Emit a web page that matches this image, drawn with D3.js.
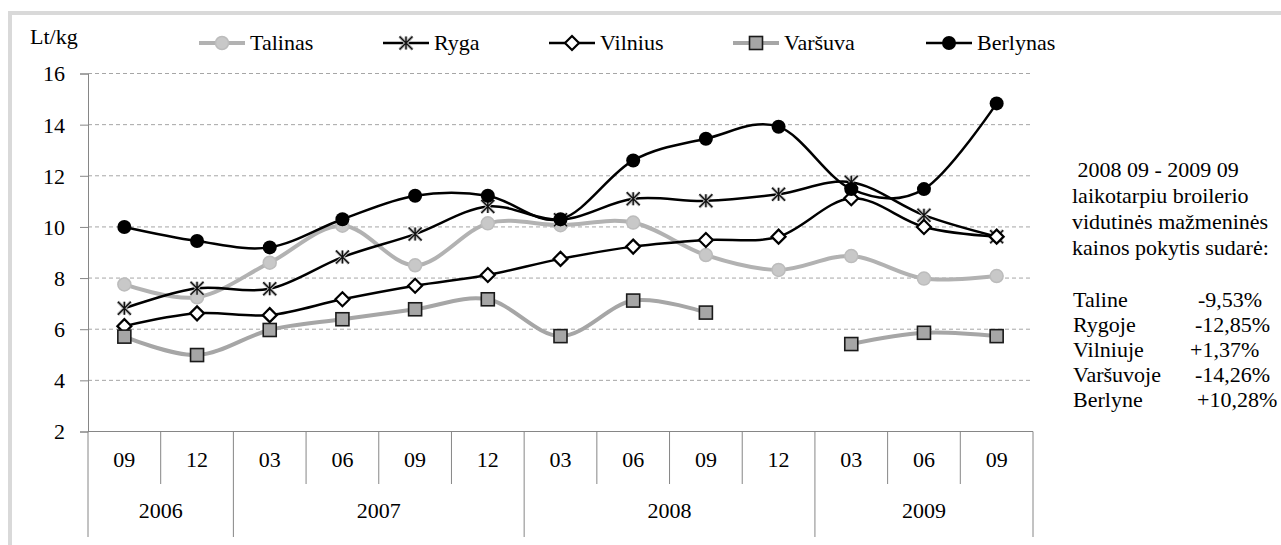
<!DOCTYPE html>
<html><head><meta charset="utf-8">
<script src="https://cdn.jsdelivr.net/npm/d3@7/dist/d3.min.js"></script>
<style>
html,body{margin:0;padding:0;background:#fff;}
svg{display:block;}
</style></head>
<body><svg id="c" width="1281" height="545"></svg>
<script>
// ---- data ----
const months = ["09","12","03","06","09","12","03","06","09","12","03","06","09"];
const years = ["2006","2007","2008","2009"];
const yearCounts = [2,4,4,3];
const yTicks = [2,4,6,8,10,12,14,16];
const seriesNames = ["Talinas","Ryga","Vilnius","Varšuva","Berlynas"];
const talinas  = [7.75,7.25,8.6,10.05,8.5,10.14,10.07,10.17,8.9,8.32,8.86,7.98,8.08];
const ryga     = [6.82,7.6,7.58,8.82,9.72,10.8,10.28,11.1,11.02,11.28,11.75,10.46,9.62];
const vilnius  = [6.12,6.62,6.55,7.17,7.7,8.12,8.75,9.23,9.49,9.62,11.12,10.0,9.62];
const varsuva  = [5.71,4.99,5.97,6.39,6.78,7.17,5.73,7.12,6.65,null,5.42,5.86,5.73];
const berlynas = [10.0,9.45,9.2,10.3,11.22,11.22,10.3,12.6,13.45,13.92,11.48,11.48,14.83];
const noteLines = [" 2008 09 - 2009 09","laikotarpiu broilerio","vidutinės mažmeninės","kainos pokytis sudarė:"];
const noteCities = ["Taline","Rygoje","Vilniuje","Varšuvoje","Berlyne"];
const noteValues = ["-9,53%","-12,85%","+1,37%","-14,26%","+10,28%"];

// ---- layout ----
const FONT = "Liberation Serif";
const L = 88, R = 1033, T = 73.5, B = 431.5;
const svg = d3.select("#c");

// outer frame
svg.append("rect").attr("x",10).attr("y",13).attr("width",1400).attr("height",700)
  .attr("fill","none").attr("stroke","#d9d9d9").attr("stroke-width",4);

const x = d3.scaleBand().domain(d3.range(months.length)).range([L,R]).padding(0);
const y = d3.scaleLinear().domain([2,16]).range([B,T]);
const cx = i => x(i) + x.bandwidth()/2;

// gridlines
svg.append("g").selectAll("line").data(yTicks.filter(t=>t>2)).join("line")
  .attr("x1",L).attr("x2",R).attr("y1",d=>y(d)).attr("y2",d=>y(d))
  .attr("stroke","#a6a6a6").attr("stroke-width",1).attr("stroke-dasharray","4,3");

// y axis
const yAxis = svg.append("g").attr("transform",`translate(${L},0)`)
  .call(d3.axisLeft(y).tickValues(yTicks).tickSize(8).tickPadding(15).tickFormat(d3.format("d")));
yAxis.attr("font-size",22).attr("font-family",FONT);
yAxis.select(".domain").attr("stroke","#868686");
yAxis.selectAll(".tick line").attr("stroke","#868686");
yAxis.selectAll(".tick text").attr("fill","#000").attr("dy","0.34em");

// x axis line
svg.append("line").attr("x1",L).attr("x2",R).attr("y1",B).attr("y2",B).attr("stroke","#868686");
// month / year separators
const yearBounds = [0];
yearCounts.forEach((c,i)=>yearBounds.push(yearBounds[i]+c));
const bx = d => d<months.length ? x(d) : R;
svg.append("g").selectAll("line").data(d3.range(months.length+1)).join("line")
  .attr("x1",bx).attr("x2",bx)
  .attr("y1",B).attr("y2",d=> yearBounds.includes(d) ? 537 : 484)
  .attr("stroke","#868686");
// month labels
svg.append("g").selectAll("text").data(months).join("text")
  .attr("x",(d,i)=>cx(i)).attr("y",467).attr("text-anchor","middle")
  .attr("font-family",FONT).attr("font-size",22).text(d=>d);
// year labels
svg.append("g").selectAll("text").data(years).join("text")
  .attr("x",(d,i)=>(bx(yearBounds[i])+bx(yearBounds[i+1]))/2)
  .attr("y",518).attr("text-anchor","middle").attr("font-family",FONT).attr("font-size",22).text(d=>d);

// unit label
svg.append("text").attr("x",30).attr("y",44).attr("font-family",FONT).attr("font-size",22).text("Lt/kg");

// series styles
const styles = [
  {data:talinas, stroke:"#b2b2b2", w:4, marker:"circleL"},
  {data:ryga, stroke:"#000", w:2.5, marker:"star"},
  {data:vilnius, stroke:"#000", w:2.5, marker:"diamond"},
  {data:varsuva, stroke:"#a6a6a6", w:4, marker:"square"},
  {data:berlynas, stroke:"#000", w:2.5, marker:"circleB"}
];

function drawMarker(g, type, px, py){
  if(type==="circleL"){
    g.append("circle").attr("cx",px).attr("cy",py).attr("r",6.5).attr("fill","#c8c8c8").attr("stroke","#bcbcbc").attr("stroke-width",1.5);
  } else if(type==="circleB"){
    g.append("circle").attr("cx",px).attr("cy",py).attr("r",7).attr("fill","#000");
  } else if(type==="diamond"){
    const s=7;
    g.append("path").attr("d",`M${px},${py-s}L${px+s},${py}L${px},${py+s}L${px-s},${py}Z`)
      .attr("fill","#fff").attr("stroke","#000").attr("stroke-width",2.2);
  } else if(type==="square"){
    const s=6.5;
    g.append("rect").attr("x",px-s).attr("y",py-s).attr("width",2*s).attr("height",2*s)
      .attr("fill","#a6a6a6").attr("stroke","#1a1a1a").attr("stroke-width",1.6);
  } else if(type==="star"){
    const s=6.5;
    const d = `M${px},${py-s}L${px},${py+s}M${px-s},${py-s}L${px+s},${py+s}M${px-s},${py+s}L${px+s},${py-s}`;
    g.append("path").attr("d",d).attr("stroke","#bbb").attr("stroke-width",3.2).attr("fill","none");
    g.append("path").attr("d",d).attr("stroke","#111").attr("stroke-width",1.4).attr("fill","none");
  }
}

const line = d3.line().defined(d=>d!=null).x((d,i)=>cx(i)).y(d=>y(d)).curve(d3.curveCatmullRom.alpha(0));
styles.forEach(st=>{
  const g = svg.append("g");
  g.append("path").attr("d",line(st.data)).attr("fill","none").attr("stroke",st.stroke).attr("stroke-width",st.w).attr("stroke-linejoin","round");
  st.data.forEach((v,i)=>{ if(v!=null) drawMarker(g, st.marker, cx(i), y(v)); });
});

// legend
const legendX = [199,383,549,733,926];
const legendY = 43;
seriesNames.forEach((n,i)=>{
  const g = svg.append("g");
  const st = styles[i];
  g.append("line").attr("x1",legendX[i]).attr("x2",legendX[i]+46).attr("y1",legendY).attr("y2",legendY)
    .attr("stroke",st.stroke).attr("stroke-width",st.w);
  drawMarker(g, st.marker, legendX[i]+23, legendY);
  g.append("text").attr("x",legendX[i]+51).attr("y",legendY+7).attr("font-family",FONT).attr("font-size",22).text(n);
});

// note text
const note = svg.append("g");
noteLines.forEach((t,i)=>{
  note.append("text").attr("x",1072).attr("y",177+i*26).attr("font-family",FONT).attr("font-size",22).attr("xml:space","preserve").text(t);
});
const valueX = [1198,1195,1190,1195,1197];
noteCities.forEach((t,i)=>{
  note.append("text").attr("x",1073).attr("y",307+i*25).attr("font-family",FONT).attr("font-size",22).text(t);
  note.append("text").attr("x",valueX[i]).attr("y",307+i*25).attr("font-family",FONT).attr("font-size",22).text(noteValues[i]);
});
</script></body></html>
